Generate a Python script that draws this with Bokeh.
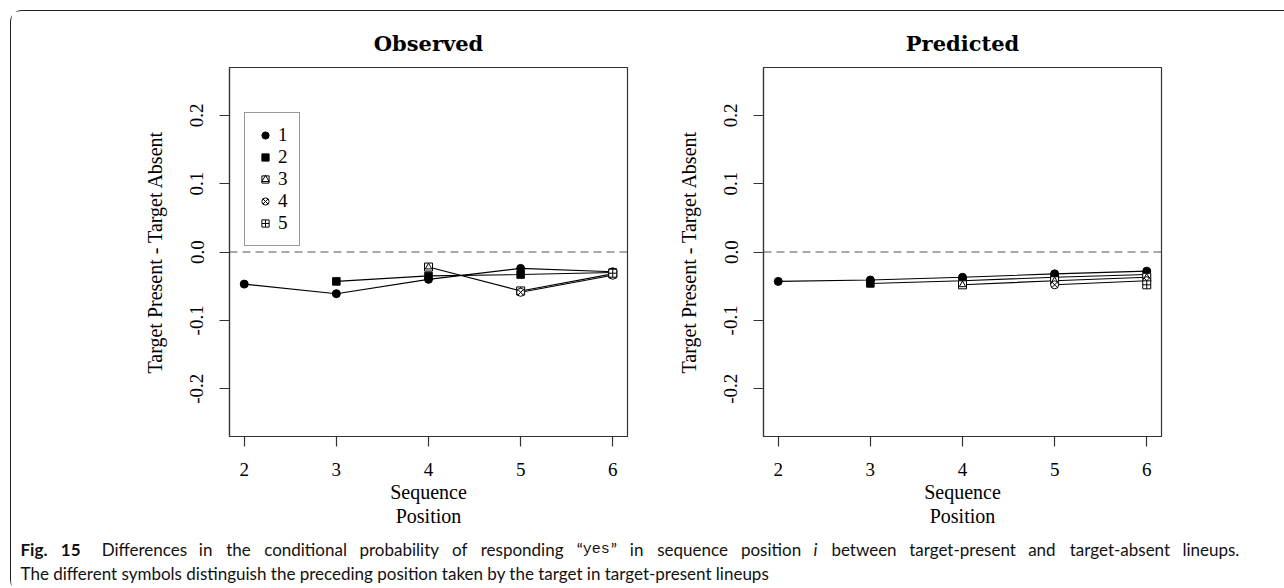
import math
from bokeh.plotting import figure
from bokeh.models import (Range1d, FixedTicker, Span, Legend, LegendItem, Label,
                          Spacer, PrintfTickFormatter)
from bokeh.layouts import row, column
from bokeh.embed import file_html
from bokeh.resources import INLINE

# ---------------- data ----------------
positions = [2, 3, 4, 5, 6]
x_tick_labels = ["2", "3", "4", "5", "6"]
y_ticks = [-0.2, -0.1, 0.0, 0.1, 0.2]
y_tick_labels = ["-0.2", "-0.1", "0.0", "0.1", "0.2"]
series_labels = ["1", "2", "3", "4", "5"]

# Observed: series k is defined for sequence positions k+1 .. 6
obs_1 = [-0.047, -0.061, -0.040, -0.024, -0.029]
obs_2 = [-0.043, -0.035, -0.033, -0.030]
obs_3 = [-0.022, -0.057, -0.032]
obs_4 = [-0.059, -0.034]
obs_5 = [-0.031]

# Predicted
pred_1 = [-0.043, -0.041, -0.037, -0.032, -0.028]
pred_2 = [-0.046, -0.042, -0.037, -0.033]
pred_3 = [-0.048, -0.042, -0.037]
pred_4 = [-0.048, -0.042]
pred_5 = [-0.048]

observed = [obs_1, obs_2, obs_3, obs_4, obs_5]
predicted = [pred_1, pred_2, pred_3, pred_4, pred_5]

SERIF = "Liberation Serif"
TITLE_FONT = "DejaVu Serif"
CAP_FONT = "Lato"
FRAME_COL = "#333333"


def make_panel(title, series, with_legend, mb_left, mb_right):
    p = figure(frame_width=398, frame_height=369,
               x_range=Range1d(1.84, 6.16), y_range=Range1d(-0.27, 0.27),
               output_backend="svg", toolbar_location=None,
               min_border_left=mb_left, min_border_right=mb_right,
               min_border_top=56, min_border_bottom=89,
               background_fill_color="white", border_fill_color="white")
    p.grid.visible = False
    p.outline_line_color = FRAME_COL
    p.outline_line_width = 1.2

    p.title.text = title
    p.title.align = "center"
    p.title.text_font = TITLE_FONT
    p.title.text_font_style = "bold"
    p.title.text_font_size = "21px"
    p.title.text_color = "black"
    p.title.standoff = 24

    xa = p.xaxis[0]
    xa.ticker = FixedTicker(ticks=positions)
    xa.major_label_overrides = {pos: lab for pos, lab in zip(positions, x_tick_labels)}
    ya = p.yaxis[0]
    ya.ticker = FixedTicker(ticks=y_ticks)
    ya.formatter = PrintfTickFormatter(format="%.1f")
    ya.major_label_overrides = {t: lab for t, lab in zip(y_ticks, y_tick_labels)}
    ya.major_label_orientation = "parallel"
    for ax in (xa, ya):
        ax.axis_line_color = FRAME_COL
        ax.axis_line_width = 1.2
        ax.major_tick_line_color = FRAME_COL
        ax.major_tick_line_width = 1.2
        ax.major_tick_out = 10
        ax.major_tick_in = 0
        ax.minor_tick_out = 0
        ax.minor_tick_in = 0
        ax.major_label_text_font = SERIF
        ax.major_label_text_font_size = "19px"
        ax.major_label_text_color = "black"
        ax.axis_label_text_font = SERIF
        ax.axis_label_text_font_size = "20px"
        ax.axis_label_text_font_style = "normal"
        ax.axis_label_text_color = "black"
    xa.axis_label = "Sequence\nPosition"
    xa.axis_label_text_line_height = 1.1
    xa.major_label_standoff = 16
    xa.axis_label_standoff = 2
    ya.axis_label = "Target Present - Target Absent"
    ya.major_label_standoff = 16
    ya.axis_label_standoff = 22

    p.add_layout(Span(location=0, dimension="width", line_color="#555555",
                      line_dash="8 5", line_width=1.2))

    # lines
    for k, vals in enumerate(series):
        xs = positions[k:]
        p.line(xs, vals, line_color="black", line_width=1.1)

    # markers
    rends = []
    for k, vals in enumerate(series):
        xs = positions[k:]
        if k == 0:
            r = [p.scatter(xs, vals, marker="circle", size=8, fill_color="black",
                           line_color="black")]
        elif k == 1:
            r = [p.scatter(xs, vals, marker="square", size=7.5, fill_color="black",
                           line_color="black")]
        elif k == 2:
            r = [p.scatter(xs, vals, marker="square", size=8, fill_color="white",
                           line_color="black", line_width=1),
                 p.scatter(xs, vals, marker="triangle", size=6.5, fill_color=None,
                           line_color="black", line_width=1)]
        elif k == 3:
            r = [p.scatter(xs, vals, marker="circle_x", size=8, fill_color="white",
                           line_color="black", line_width=1)]
        else:
            r = [p.scatter(xs, vals, marker="square_cross", size=8, fill_color="white",
                           line_color="black", line_width=1)]
        rends.append(r)

    if with_legend:
        items = [LegendItem(label=lab, renderers=r) for lab, r in zip(series_labels, rends)]
        leg = Legend(items=items, location=(15, 190))
        leg.border_line_color = FRAME_COL
        leg.border_line_width = 1.2
        leg.padding = 11
        leg.spacing = 0
        leg.margin = 0
        leg.glyph_width = 18
        leg.glyph_height = 18
        leg.label_height = 20
        leg.label_width = 8
        leg.label_standoff = 4
        leg.label_text_font = SERIF
        leg.label_text_font_size = "19px"
        leg.label_text_color = "black"
        leg.background_fill_color = "white"
        p.add_layout(leg)
    return p


p1 = make_panel("Observed", observed, True, 218, 40)
p2 = make_panel("Predicted", predicted, False, 96, 123)

# ---------------- caption ----------------
CAP_W, CAP_H = 1273, 62
cap = figure(width=CAP_W, height=CAP_H, x_range=Range1d(0, CAP_W), y_range=Range1d(0, CAP_H),
             output_backend="svg", toolbar_location=None, min_border=0,
             x_axis_location=None, y_axis_location=None,
             background_fill_color="white", border_fill_color="white")
cap.grid.visible = False
cap.outline_line_color = None

OX = 11  # caption canvas left in window coordinates
CAP_SIZE = 17


def cap_label(x, y, text, style="normal", font=CAP_FONT, size=CAP_SIZE):
    cap.add_layout(Label(x=x - OX, y=y, text=text, text_font=font,
                         text_font_size=f"{size}px",
                         text_font_style=style, text_color="#111111",
                         text_baseline="middle", text_align="left"))


# approximate Lato advance widths (em) used only to spread the justified first line
W = {"a": .51, "b": .56, "c": .45, "d": .56, "e": .52, "f": .31, "g": .50, "h": .56,
     "i": .23, "j": .23, "k": .49, "l": .23, "m": .84, "n": .56, "o": .56, "p": .56,
     "q": .56, "r": .36, "s": .42, "t": .34, "u": .56, "v": .49, "w": .74, "x": .48,
     "y": .49, "z": .44, "D": .70, "F": .52, "T": .55, "1": .58, "5": .58, ".": .22,
     "-": .33, " ": .19, "\u201c": .3, "\u201d": .3}


def est_w(t, s):
    if s == "quote":
        return 2 * 0.3 * CAP_SIZE + 3 * 0.6 * 15 + 2
    f = 1.06 if s == "bold" else 1.0
    return sum(W.get(ch, 0.55) for ch in t) * CAP_SIZE * f


# line 1 is justified across the full width: spread the words
line1 = [("Fig.", "bold"), ("15", "bold"), ("Differences", "normal"), ("in", "normal"),
         ("the", "normal"), ("conditional", "normal"), ("probability", "normal"),
         ("of", "normal"), ("responding", "normal"), ("\u201cyes\u201d", "quote"),
         ("in", "normal"), ("sequence", "normal"), ("position", "normal"),
         ("i", "italic"), ("between", "normal"), ("target-present", "normal"),
         ("and", "normal"), ("target-absent", "normal"), ("lineups.", "normal")]

X0, X1 = 20, 1238
total = sum(est_w(t, s) for t, s in line1) + 6
gap = (X1 - X0 - total) / (len(line1) - 1)
x = X0
Y1, Y2 = 42, 18
for i, (t, s) in enumerate(line1):
    if s == "quote":
        cap_label(x, Y1, "\u201c")
        qx = x + 0.3 * CAP_SIZE + 1
        cap_label(qx, Y1, "yes", font="Liberation Mono", size=15)
        cap_label(qx + 3 * 0.6 * 15 + 1, Y1, "\u201d")
    else:
        cap_label(x, Y1, t, style=s)
    x += est_w(t, s) + gap
    if i == 1:
        x += 6

cap_label(20, Y2, "The different symbols distinguish the preceding position taken by the "
                  "target in target-present lineups")

framed = column(row(p1, p2), cap,
                styles={"border-left": "1.5px solid #222", "border-top": "1.5px solid #222",
                        "border-bottom": "1.5px solid #222",
                        "border-top-left-radius": "12px", "border-bottom-left-radius": "12px"})
root = column(Spacer(height=10), row(Spacer(width=10), framed))

open("out.html", "w").write(file_html(root, INLINE))
